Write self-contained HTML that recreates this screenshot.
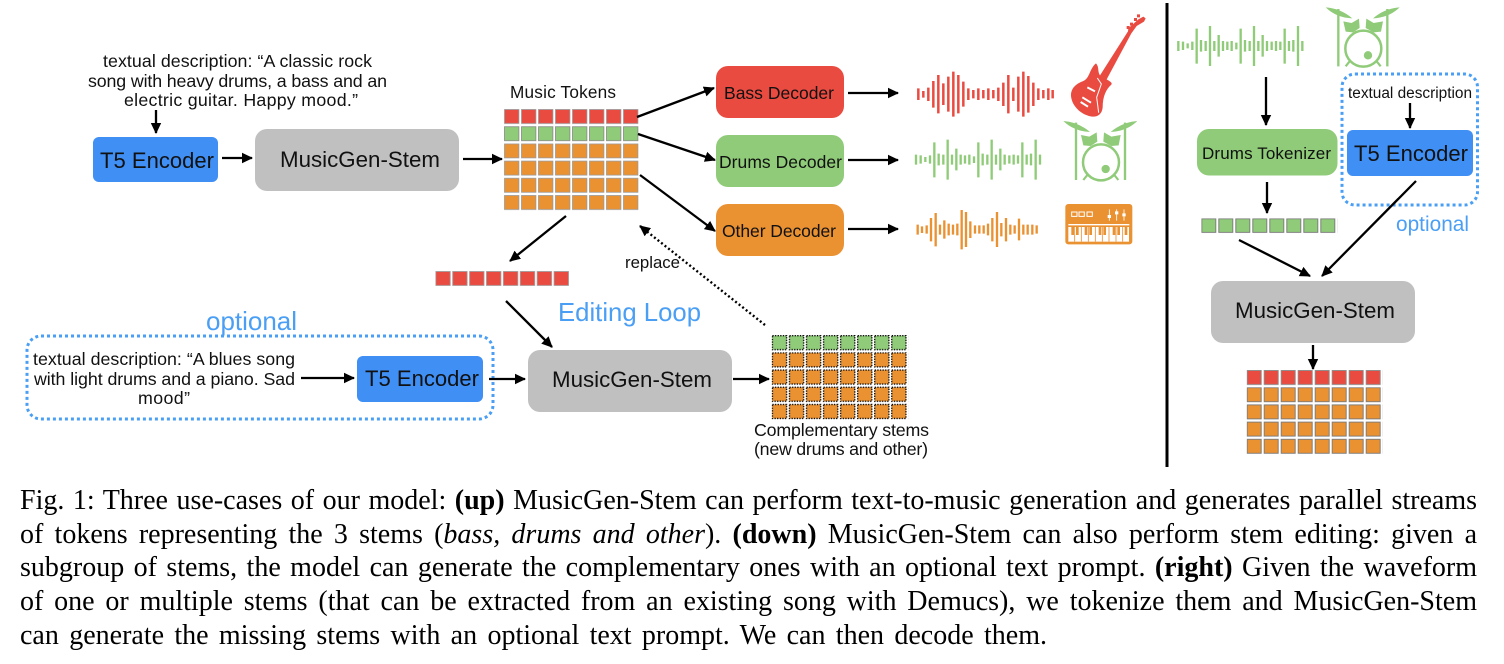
<!DOCTYPE html>
<html><head><meta charset="utf-8"><style>
html,body{margin:0;padding:0;background:#fff;width:1504px;height:664px;overflow:hidden}
svg{display:block;position:absolute;left:0;top:0}
text{font-family:"Liberation Sans",sans-serif;fill:#111}
.c{position:absolute;left:20px;width:1457px;font-family:"Liberation Serif",serif;font-size:28px;line-height:34px;height:34px;color:#000;text-align:justify;text-align-last:justify;overflow:visible}
.a{stroke:#000;stroke-width:2.3;fill:none;marker-end:url(#ah)}
.b{fill:#4a9ff5}
</style></head><body>
<svg width="1504" height="664" viewBox="0 0 1504 664" xmlns="http://www.w3.org/2000/svg">
<defs>
<marker id="ah" markerUnits="userSpaceOnUse" markerWidth="12" markerHeight="12" refX="10" refY="6" orient="auto"><path d="M0 .8L11 6L0 11.2z" fill="#000"/></marker>
<pattern id="r" x="504" y="109" width="17" height="17.2" patternUnits="userSpaceOnUse"><rect x=".5" y=".5" width="14.4" height="14" fill="#ea4b41" stroke="#999" stroke-width=".8"/></pattern>
<pattern id="g" x="504" y="109" width="17" height="17.2" patternUnits="userSpaceOnUse"><rect x=".5" y=".5" width="14.4" height="14" fill="#8fcb78" stroke="#888" stroke-width=".8"/></pattern>
<pattern id="o" x="504" y="109" width="17" height="17.2" patternUnits="userSpaceOnUse"><rect x=".5" y=".5" width="14.4" height="14" fill="#ea9132" stroke="#999" stroke-width=".8"/></pattern>
<pattern id="r2" x="435.3" y="271" width="16.9" height="17.2" patternUnits="userSpaceOnUse"><rect x=".5" y=".5" width="14.4" height="14" fill="#ea4b41" stroke="#999" stroke-width=".8"/></pattern>
<pattern id="g2" x="1201.3" y="218.3" width="17" height="17.2" patternUnits="userSpaceOnUse"><rect x=".5" y=".5" width="14" height="13.6" fill="#8fcb78" stroke="#777" stroke-width=".9"/></pattern>
<pattern id="cg" x="771.7" y="335" width="17.05" height="17.2" patternUnits="userSpaceOnUse"><rect x=".7" y=".7" width="14.2" height="14" fill="#8fcb78" stroke="#000" stroke-width="1.3" stroke-dasharray="1.3 1.3"/></pattern>
<pattern id="co" x="771.7" y="335" width="17.05" height="17.2" patternUnits="userSpaceOnUse"><rect x=".7" y=".7" width="14.2" height="14" fill="#ea9132" stroke="#000" stroke-width="1.3" stroke-dasharray="1.3 1.3"/></pattern>
<pattern id="rr" x="1246.7" y="370" width="17" height="17.2" patternUnits="userSpaceOnUse"><rect x=".5" y=".5" width="14" height="14" fill="#ea4b41" stroke="#888" stroke-width=".9"/></pattern>
<pattern id="ro" x="1246.7" y="370" width="17" height="17.2" patternUnits="userSpaceOnUse"><rect x=".5" y=".5" width="14" height="14" fill="#ea9132" stroke="#777" stroke-width=".9"/></pattern>
<g id="gw" fill="none" stroke="#8fcb78" stroke-width="7"><path d="M108 464v30M122 466v25M136 471v15M150 466v25M163 427v105M176 461v35M190 464v30M203 419v120M216 464v30M229 446v65M242 464v30M255 466v25M268 464v30M282 469v20M295 427v105M308 461v35M322 464v30M335 419v120M348 464v30M361 446v65M374 464v30M388 466v25M401 464v30M414 466v25M427 427v105M440 464v30M453 461v35M467 419v120M480 464v30"/></g>
<g id="dr"><path d="M550 363Q595 366 630 396Q582 394 550 363zM772 363Q727 366 692 396Q740 394 772 363z" fill="#8fcb78"/><path d="M588 368V540M735 368V540" stroke="#8fcb78" stroke-width="7" fill="none"/><path d="M603 405L628 410L650 397L652 425L632 438L610 436zM672 397L694 410L722 405L716 436L694 438L670 425z" fill="#8fcb78"/><circle cx="663" cy="487" r="54" fill="#fff" stroke="#8fcb78" stroke-width="7.5"/><circle cx="677" cy="507" r="12.5" fill="#8fcb78"/><path d="M622 525L610 540M703 525L715 540" stroke="#8fcb78" stroke-width="6.5" fill="none"/></g>
</defs>

<rect x="1165.5" y="3" width="3" height="464" fill="#000"/>

<text x="103" y="67" font-size="17.8" textLength="269">textual description: “A classic rock</text>
<text x="88" y="87" font-size="17.8" textLength="299">song with heavy drums, a bass and an</text>
<text x="124" y="106" font-size="17.8" textLength="234">electric guitar. Happy mood.”</text>
<rect x="93" y="137" width="125" height="45" rx="6" fill="#3f8ff5"/>
<text x="100" y="168" font-size="22" textLength="114">T5 Encoder</text>
<rect x="255" y="129" width="204" height="62" rx="12" fill="#c0c0c0"/>
<text x="280" y="167" font-size="22.3" textLength="160">MusicGen-Stem</text>
<path class="a" d="M156 110V133"/><path class="a" d="M222 158H252"/><path class="a" d="M463 159H502"/>
<text x="510" y="98" font-size="17.2" textLength="106">Music Tokens</text>
<rect x="504" y="109" width="136" height="17" fill="url(#r)"/>
<rect x="504" y="126" width="136" height="17" fill="url(#g)"/>
<rect x="504" y="143.4" width="136" height="68" fill="url(#o)"/>
<path class="a" d="M637 117L714 88"/><path class="a" d="M638 134L715 160"/><path class="a" d="M640 175L715 231"/>
<rect x="716" y="66" width="128" height="52" rx="12" fill="#ea4b41"/>
<rect x="716" y="135" width="128" height="52" rx="12" fill="#8fcb78"/>
<rect x="716" y="204" width="128" height="52" rx="12" fill="#ea9132"/>
<text x="724" y="99" font-size="17.5" textLength="110">Bass Decoder</text>
<text x="719" y="168" font-size="17.5" textLength="123">Drums Decoder</text>
<text x="722" y="237" font-size="17.5" textLength="114">Other Decoder</text>
<path class="a" d="M848 93H898"/><path class="a" d="M848 160H898"/><path class="a" d="M848 229H898"/>

<g transform="translate(880,0) scale(.33333)">
<path fill="none" stroke="#ea4b41" stroke-width="7.5" d="M115 265v35M130 273v20M145 263v40M160 243v80M175 225v115M190 250v65M205 230v105M220 215v135M235 225v115M250 245v75M265 265v35M280 270v25M295 265v35M310 270v25M325 265v35M340 270v25M355 263v40M370 248v70M385 225v115M400 263v40M415 230v105M430 215v135M445 228v110M460 248v70M475 265v35M490 270v25M505 265v35M518 270v25"/>
<use href="#gw"/>
<path fill="none" stroke="#ea9132" stroke-width="7" d="M113 674v30M126 679v20M140 676v25M153 654v70M167 639v100M180 674v30M193 661v55M206 671v35M219 674v30M232 671v35M245 630v118M258 636v105M271 664v50M285 676v25M298 676v25M311 676v25M324 671v35M337 654v70M351 636v105M364 669v40M378 654v70M391 674v30M404 676v25M417 656v65M430 674v30M443 674v30M457 674v30M470 676v25"/>
<use href="#dr"/>
<!-- guitar -->
<path fill="#ea4b41" d="M648 190C658 200 652 215 660 226L744 94L745 85L775 58L790 50L797 55L792 65L770 78L754 100L680 238C690 244 698 248 694 254C678 268 668 290 668 322C666 344 650 353 632 349C605 344 576 320 573 288C572 262 592 250 610 243C630 234 628 206 648 190z"/>
<path fill="#ea4b41" d="M740 78h9v9h-9zM750 68h9v9h-9zM762 54h9v9h-9zM771 43h9v9h-9z"/>
<path d="M622 262L645 274M607 292L633 308M602 306L624 320" stroke="#fff" stroke-width="6" fill="none"/>
<path d="M652 234L664 252L650 292L656 338" stroke="#fff" stroke-width="3" fill="none"/>
<!-- keyboard -->
<rect x="556" y="612" width="201" height="121" rx="9" fill="#ea9132"/>
<path d="M565 674H748" stroke="#fff" stroke-width="4"/>
<rect x="565" y="681" width="182" height="44" fill="#fff"/>
<path d="M584 681V725M604 681V725M625 681V725M646 681V725M667 681V725M687 681V725M708 681V725M728 681V725" stroke="#ea9132" stroke-width="2.5"/>
<path d="M578 681V705M592 681V705M618 681V705M632 681V705M660 681V705M674 681V705M702 681V705M716 681V705M738 681V705" stroke="#ea9132" stroke-width="8"/>
<path d="M575 636h16v13h-16zM597 636h16v13h-16zM621 636h16v13h-16z" fill="none" stroke="#fff" stroke-width="3"/>
<path d="M688 628v34M710 628v34M732 628v34" stroke="#fff" stroke-width="2.5"/>
<path d="M683 645h10v9h-10zM705 634h10v9h-10zM727 640h10v9h-10z" fill="#fff"/>
<g transform="translate(787,-341)"><use href="#gw"/><use href="#dr"/></g>
</g>

<path class="a" d="M566 216L510 261"/>
<rect x="435.3" y="271" width="135" height="15" fill="url(#r2)"/>
<path class="a" d="M506 301L552 347"/>
<path d="M765 325L640 226" stroke="#000" stroke-width="2.4" stroke-dasharray="2 2.5" fill="none" marker-end="url(#ah)"/>
<text x="625" y="268" font-size="16.8" textLength="55">replace</text>
<text class="b" x="558" y="321" font-size="25.7" textLength="143">Editing Loop</text>
<text class="b" x="206" y="330" font-size="26" textLength="91">optional</text>
<rect x="27" y="336" width="466" height="83" rx="14" fill="none" stroke="#4a9ff5" stroke-width="3" stroke-dasharray="3 3"/>
<text x="33" y="365" font-size="17.8" textLength="262">textual description: “A blues song</text>
<text x="34" y="385" font-size="17.8" textLength="261">with light drums and a piano. Sad</text>
<text x="138" y="404" font-size="17.8" textLength="52">mood”</text>
<path class="a" d="M301 378H354"/>
<rect x="357" y="356" width="126" height="46" rx="6" fill="#3f8ff5"/>
<text x="365" y="386" font-size="22" textLength="114">T5 Encoder</text>
<path class="a" d="M489 379H525"/>
<rect x="528" y="350" width="204" height="62" rx="12" fill="#c0c0c0"/>
<text x="552" y="387" font-size="22.3" textLength="160">MusicGen-Stem</text>
<path class="a" d="M733 379H769"/>
<rect x="771.7" y="335" width="136.4" height="17" fill="url(#cg)"/>
<rect x="771.7" y="352.2" width="136.4" height="68.8" fill="url(#co)"/>
<text x="754" y="436" font-size="17.8" textLength="175">Complementary stems</text>
<text x="754" y="455" font-size="17.8" textLength="174">(new drums and other)</text>

<path class="a" d="M1266 77V125"/>
<rect x="1197" y="129" width="140.5" height="46.5" rx="12" fill="#8fcb78"/>
<text x="1202" y="159" font-size="17" textLength="129">Drums Tokenizer</text>
<rect x="1342" y="74" width="135.5" height="131" rx="13" fill="none" stroke="#4a9ff5" stroke-width="3" stroke-dasharray="3 3"/>
<text x="1348" y="98" font-size="15.4" textLength="124">textual description</text>
<path class="a" d="M1410 103V128"/>
<rect x="1347" y="130" width="126" height="46" rx="6" fill="#3f8ff5"/>
<text x="1354" y="161" font-size="22" textLength="114">T5 Encoder</text>
<path class="a" d="M1267 182V213"/>
<rect x="1201.3" y="218.3" width="136" height="15" fill="url(#g2)"/>
<text class="b" x="1396" y="231" font-size="20.8" textLength="73">optional</text>
<path class="a" d="M1416 181L1322 276"/>
<path class="a" d="M1239 240L1310 276"/>
<rect x="1211" y="281" width="204" height="62" rx="12" fill="#c0c0c0"/>
<text x="1235" y="318" font-size="22.3" textLength="160">MusicGen-Stem</text>
<path class="a" d="M1313 345V369"/>
<rect x="1246.7" y="370" width="136" height="17" fill="url(#rr)"/>
<rect x="1246.7" y="387.2" width="136" height="68.8" fill="url(#ro)"/>
</svg>
<div class="c" style="top:483.5px">Fig. 1: Three use-cases of our model: <b>(up)</b> MusicGen-Stem can perform text-to-music generation and generates parallel streams</div>
<div class="c" style="top:517.5px">of tokens representing the 3 stems (<i>bass, drums and other</i>). <b>(down)</b> MusicGen-Stem can also perform stem editing: given a</div>
<div class="c" style="top:551px">subgroup of stems, the model can generate the complementary ones with an optional text prompt. <b>(right)</b> Given the waveform</div>
<div class="c" style="top:584.5px">of one or multiple stems (that can be extracted from an existing song with Demucs), we tokenize them and MusicGen-Stem</div>
<div class="c" style="top:618.5px;width:1027px">can generate the missing stems with an optional text prompt. We can then decode them.</div>
</body></html>
